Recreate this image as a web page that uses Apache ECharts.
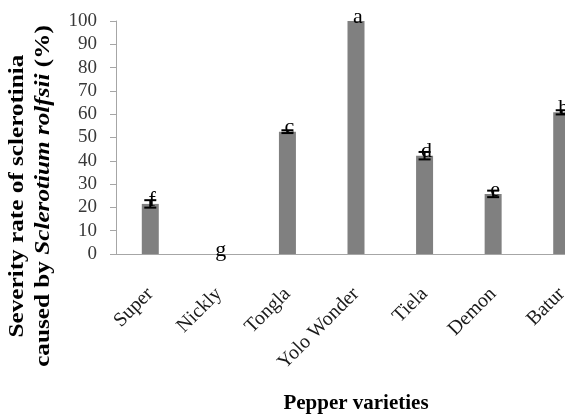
<!DOCTYPE html>
<html>
<head>
<meta charset="utf-8">
<script src="https://cdn.jsdelivr.net/npm/echarts@6/dist/echarts.min.js"></script>
<style>html,body{margin:0;padding:0;background:#fff}#c{width:565px;height:417px}</style>
</head>
<body>
<div id="c"></div>
<script>
const categories = ['Super', 'Nickly', 'Tongla', 'Yolo Wonder', 'Tiela', 'Demon', 'Batur'];
const severity = [21.5, 0, 52.5, 100, 42.2, 25.8, 60.8];
const errors = [1.6, 0, 0.6, 0, 1.6, 1.4, 0.9];
const letters = ['f', 'g', 'c', 'a', 'd', 'e', 'b'];
const yMin = 0, yMax = 100, yStep = 10;

const serif = '"Liberation Serif", serif';
const chart = echarts.init(document.getElementById('c'), null, {renderer: 'canvas'});

chart.setOption({
  animation: false,
  backgroundColor: '#fff',
  grid: {left: 116, top: 21, height: 233, width: 480, containLabel: false, outerBoundsMode: 'none'},
  xAxis: {
    type: 'category',
    data: categories,
    boundaryGap: true,
    axisLine: {lineStyle: {color: '#a6a6a6', width: 1}},
    axisTick: {show: false},
    axisLabel: {rotate: 45, interval: 0, margin: 37, color: '#1a1a1a', fontFamily: serif, fontSize: 20},
    name: 'Pepper varieties',
    nameLocation: 'middle',
    nameGap: 139,
    nameTextStyle: {fontFamily: serif, fontWeight: 'bold', fontSize: 21, color: '#000'}
  },
  yAxis: {
    type: 'value',
    min: yMin, max: yMax, interval: yStep,
    splitLine: {show: false},
    axisLine: {show: true, lineStyle: {color: '#a6a6a6', width: 1}},
    axisTick: {show: true, length: 6, lineStyle: {color: '#a6a6a6'}},
    axisLabel: {margin: 19, color: '#383838', fontFamily: serif, fontSize: 19}
  },
  graphic: [{
    type: 'text',
    x: 31, y: 196,
    rotation: Math.PI / 2,
    scaleX: 1.2,
    style: {
      text: '{b|Severity rate of sclerotinia}\n{b|caused by }{bi|Sclerotium rolfsii}{b| (%)}',
      align: 'center', verticalAlign: 'middle',
      fill: '#000',
      rich: {
        b: {fontFamily: serif, fontWeight: 'bold', fontSize: 21, lineHeight: 26, fill: '#000'},
        bi: {fontFamily: serif, fontWeight: 'bold', fontStyle: 'italic', fontSize: 21, lineHeight: 26, fill: '#000'}
      }
    }
  }],
  series: [{
    type: 'bar',
    data: severity,
    barWidth: 17,
    itemStyle: {color: '#808080'},
    label: {
      show: true, position: 'top', distance: -7, offset: [2, 0],
      formatter: p => letters[p.dataIndex],
      fontFamily: serif, fontSize: 22, color: '#000'
    }
  }, {
    type: 'custom',
    data: categories.map((c, i) => [i, severity[i], errors[i]]),
    z: 5,
    renderItem: function (params, api) {
      const i = api.value(0), v = api.value(1), e = api.value(2);
      if (!e) return null;
      const top = api.coord([i, v + e]);
      const bot = api.coord([i, v - e]);
      const hw = 6;
      const st = {stroke: '#000', lineWidth: 2};
      return {
        type: 'group',
        children: [
          {type: 'line', shape: {x1: top[0], y1: top[1], x2: bot[0], y2: bot[1]}, style: st},
          {type: 'line', shape: {x1: top[0] - hw, y1: top[1], x2: top[0] + hw, y2: top[1]}, style: st},
          {type: 'line', shape: {x1: bot[0] - hw, y1: bot[1], x2: bot[0] + hw, y2: bot[1]}, style: st}
        ]
      };
    }
  }]
});
</script>
</body>
</html>
